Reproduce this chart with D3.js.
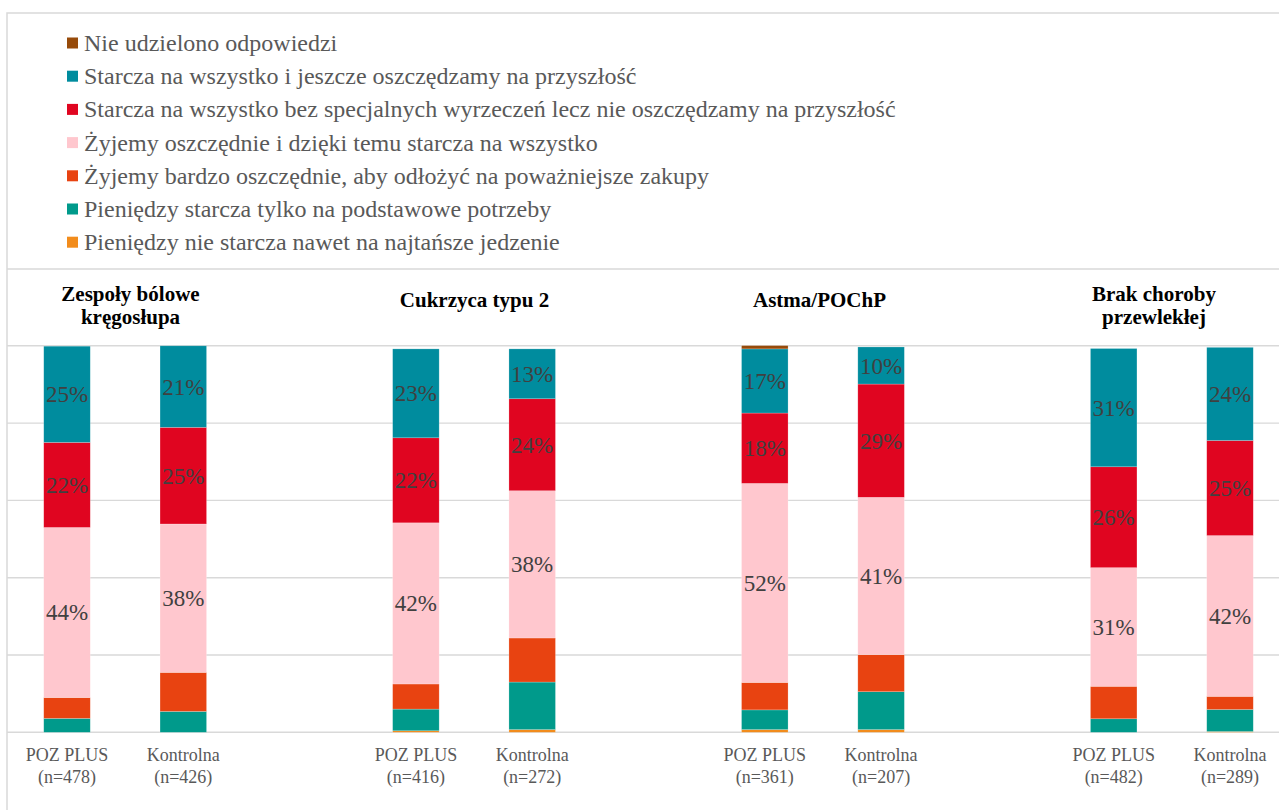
<!DOCTYPE html>
<html>
<head>
<meta charset="utf-8">
<script src="https://cdn.jsdelivr.net/npm/d3@7"></script>
<style>
  html, body { margin: 0; padding: 0; background: #fff; }
  svg { display: block; }
  svg text { font-family: "Liberation Serif", "Times New Roman", Times, "DejaVu Serif", serif; }
</style>
</head>
<body>
<svg id="chart" width="1279" height="810"></svg>
<script>
// ---------------- DATA ----------------
const slots = ["g1a", "g1b", "gap1", "g2a", "g2b", "gap2", "g3a", "g3b", "gap3", "g4a", "g4b"];
const barSlots = ["g1a", "g1b", "g2a", "g2b", "g3a", "g3b", "g4a", "g4b"];
const barGroup = ["POZ PLUS", "Kontrolna", "POZ PLUS", "Kontrolna", "POZ PLUS", "Kontrolna", "POZ PLUS", "Kontrolna"];
const barN = ["(n=478)", "(n=426)", "(n=416)", "(n=272)", "(n=361)", "(n=207)", "(n=482)", "(n=289)"];
const groupTitles = [["Zespoły bólowe", "kręgosłupa"], ["Cukrzyca typu 2"], ["Astma/POChP"], ["Brak choroby", "przewlekłej"]];

// series in stacking order (bottom -> top)
const seriesNames = [
  "Pieniędzy nie starcza nawet na najtańsze jedzenie",
  "Pieniędzy starcza tylko na podstawowe potrzeby",
  "Żyjemy bardzo oszczędnie, aby odłożyć na poważniejsze zakupy",
  "Żyjemy oszczędnie i dzięki temu starcza na wszystko",
  "Starcza na wszystko bez specjalnych wyrzeczeń lecz nie oszczędzamy na przyszłość",
  "Starcza na wszystko i jeszcze oszczędzamy na przyszłość",
  "Nie udzielono odpowiedzi"
];
const nieStarcza   = [0.0, 0.0, 0.4, 0.7, 0.7, 0.7, 0.0, 0.2];
const podstawowe   = [3.6, 5.4, 5.6, 12.3, 5.1, 9.8, 3.5, 5.7];
const bardzoOszcz  = [5.4, 10.1, 6.5, 11.4, 7.1, 9.6, 8.4, 3.4];
const oszczednie   = [44.0, 38.4, 41.7, 38.1, 51.5, 40.7, 30.7, 41.6];
const bezWyrzeczen = [22.0, 25.0, 22.0, 23.8, 18.2, 29.3, 26.1, 24.6];
const oszczedzamy  = [24.9, 21.1, 23.0, 12.9, 16.6, 9.6, 30.6, 24.1];
const brakOdp      = [0.0, 0.0, 0.0, 0.0, 0.85, 0.0, 0.0, 0.0];
const seriesValues = [nieStarcza, podstawowe, bardzoOszcz, oszczednie, bezWyrzeczen, oszczedzamy, brakOdp];
const seriesColors = ["#F28C1C", "#009A8B", "#E84311", "#FFC7CE", "#E00520", "#008C9E", "#974B0A"];
const labeledSeries = [3, 4, 5];
const yTicks = [0, 20, 40, 60, 80, 100];

// ---------------- LAYOUT ----------------
const svg = d3.select("#chart");
const W = 1279, H = 810;
const frameLeft = 7, frameTop = 13, sepY = 269;
const plotTop = 345.8, plotBottom = 732.3;

const x = d3.scaleBand().domain(slots).range([8.85, 1288.15]).paddingInner(0.6).paddingOuter(0.3);
const y = d3.scaleLinear().domain([0, 100]).range([plotBottom, plotTop]);

// frame
svg.append("rect")
  .attr("x", frameLeft).attr("y", frameTop)
  .attr("width", W + 20).attr("height", H + 20)
  .attr("fill", "none").attr("stroke", "#D9D9D9").attr("stroke-width", 1.5);
svg.append("line")
  .attr("x1", frameLeft).attr("x2", W).attr("y1", sepY).attr("y2", sepY)
  .attr("stroke", "#D9D9D9").attr("stroke-width", 1.5);

// gridlines
svg.append("g").selectAll("line").data(yTicks).join("line")
  .attr("x1", frameLeft).attr("x2", W)
  .attr("y1", d => y(d)).attr("y2", d => y(d))
  .attr("stroke", "#D9D9D9").attr("stroke-width", 1.4);

// stacked data
const rows = barSlots.map((s, i) => {
  const r = { slot: s };
  seriesNames.forEach((n, k) => r[n] = seriesValues[k][i]);
  return r;
});
const stacked = d3.stack().keys(seriesNames)(rows);

const bars = svg.append("g");
stacked.forEach((layer, k) => {
  bars.append("g").attr("fill", seriesColors[k])
    .selectAll("rect").data(layer).join("rect")
    .attr("x", d => x(d.data.slot))
    .attr("width", x.bandwidth())
    .attr("y", d => y(d[1]))
    .attr("height", d => Math.max(0, y(d[0]) - y(d[1])))
    .attr("stroke", "#ffffff").attr("stroke-opacity", 0.35).attr("stroke-width", 0.6);
});

// value labels
const labels = svg.append("g")
  .attr("font-size", 23).attr("fill", "#404040").attr("text-anchor", "middle");
labeledSeries.forEach(k => {
  labels.selectAll(null).data(stacked[k]).join("text")
    .attr("x", d => x(d.data.slot) + x.bandwidth() / 2)
    .attr("y", d => (y(d[0]) + y(d[1])) / 2 + 8)
    .text(d => Math.round(d[1] - d[0]) + "%");
});

// category labels
const cats = svg.append("g")
  .attr("font-size", 18).attr("fill", "#595959").attr("text-anchor", "middle");
barSlots.forEach((s, i) => {
  const cx = x(s) + x.bandwidth() / 2;
  cats.append("text").attr("x", cx).attr("y", 761).text(barGroup[i]);
  cats.append("text").attr("x", cx).attr("y", 783).text(barN[i]);
});

// group titles
const titleX = [130.5, 474.5, 819.5, 1154];
const titles = svg.append("g")
  .attr("font-size", 21).attr("font-weight", "bold").attr("fill", "#000").attr("text-anchor", "middle");
groupTitles.forEach((lines, g) => {
  const base = lines.length === 1 ? 306.5 : 300.5;
  lines.forEach((t, j) => {
    titles.append("text").attr("x", titleX[g]).attr("y", base + j * 23).text(t);
  });
});

// legend (top -> bottom = reverse stacking order)
const legend = svg.append("g")
  .attr("font-size", 24).attr("fill", "#595959");
const legendOrder = d3.range(seriesNames.length).reverse();
legendOrder.forEach((k, i) => {
  const cy = 43 + i * 33.2;
  legend.append("rect").attr("x", 67).attr("y", cy - 5.5).attr("width", 11).attr("height", 11)
    .attr("fill", seriesColors[k]);
  legend.append("text").attr("x", 84).attr("y", cy + 8).text(seriesNames[k]);
});
</script>
</body>
</html>
